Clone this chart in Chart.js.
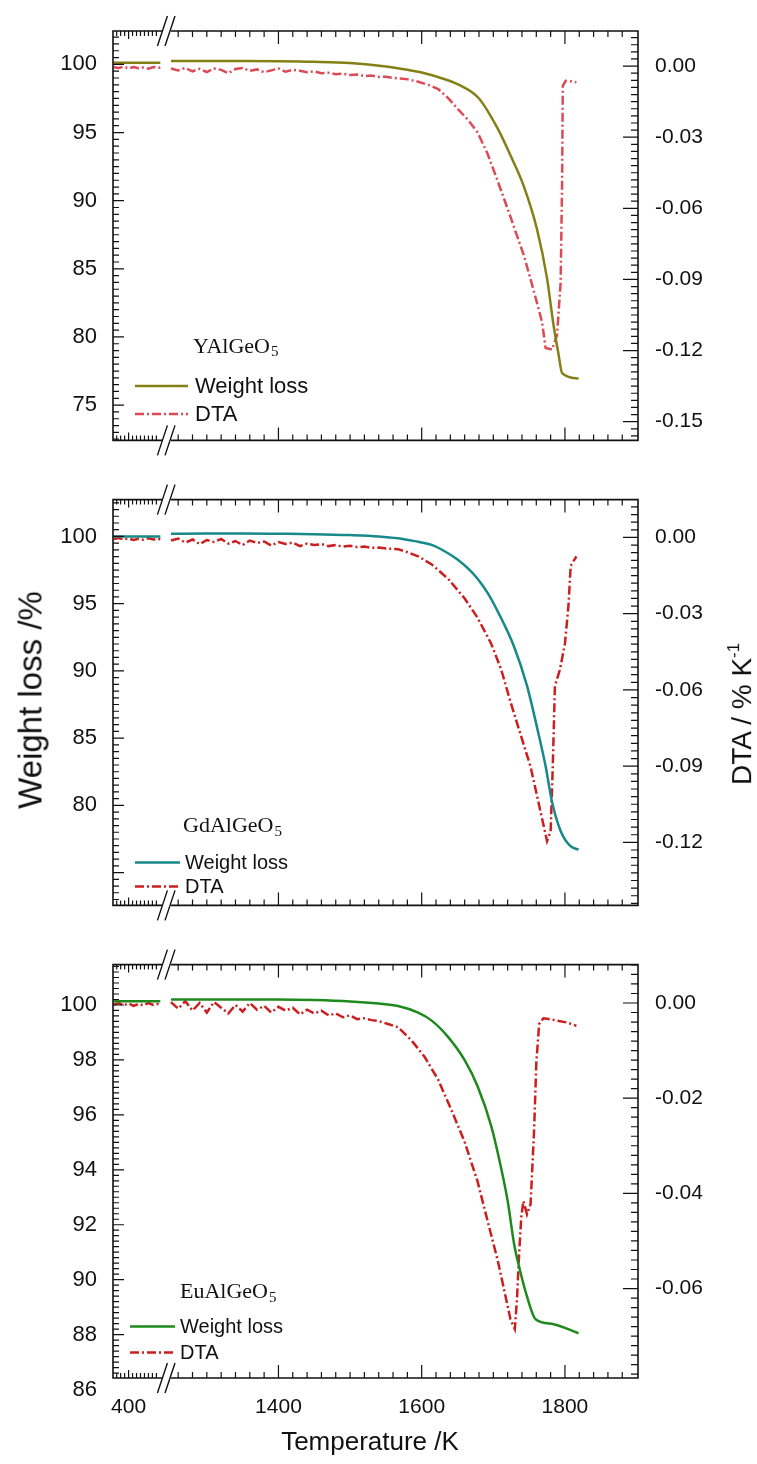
<!DOCTYPE html>
<html>
<head>
<meta charset="utf-8">
<script src="https://cdn.jsdelivr.net/npm/chart.js@4.4.1/dist/chart.umd.min.js"></script>
<style>
  body{margin:0;background:#fff;width:757px;height:1464px;position:relative;overflow:hidden;font-family:"Liberation Sans",Arial,sans-serif}
  canvas{position:absolute;left:0}
  .title{position:absolute;color:#111;white-space:nowrap;line-height:1}
  .title sup{font-size:0.6em;vertical-align:0.7em}
</style>
</head>
<body>
<canvas id="c1" style="top:0px" width="757" height="470"></canvas>
<canvas id="c2" style="top:470px" width="757" height="465"></canvas>
<canvas id="c3" style="top:935px" width="757" height="529"></canvas>
<div class="title" style="left:30px;top:700px;font-size:33px;transform:translate(-50%,-50%) rotate(-90deg)">Weight loss /%</div>
<div class="title" style="left:741px;top:714px;font-size:28px;transform:translate(-50%,-50%) rotate(-90deg)">DTA / % K<sup>-1</sup></div>
<div class="title" style="left:370px;top:1441px;font-size:26px;transform:translate(-50%,-50%)">Temperature /K</div>
<script>
// ---- data (temperature in K, weight in %, DTA in %/K) ----
// YAlGeO5
let wl1T = [325, 400, 480, 560, 1250, 1300, 1350, 1400, 1450, 1500, 1550, 1580, 1600, 1630, 1650, 1680, 1706, 1725, 1743, 1761, 1775, 1784, 1791, 1796, 1819]
let wl1 = [100.12, 100.12, 100.12, 100.12, 100.24, 100.24, 100.24, 100.23, 100.19, 100.1, 99.85, 99.6, 99.4, 98.95, 98.55, 97.5, 95.3, 93.2, 91.0, 87.9, 84.3, 80.9, 78.75, 77.35, 76.95]
let dta1T = [325, 350, 375, 400, 425, 450, 475, 500, 525, 550, 560,
  1250, 1260, 1270, 1280, 1290, 1300, 1310, 1320, 1330, 1340, 1350, 1360, 1370, 1380, 1390, 1400, 1410, 1420, 1430, 1440, 1450,
  1460, 1470, 1480, 1490, 1500, 1510, 1520, 1530, 1540, 1550, 1560, 1570, 1581, 1595, 1610, 1623, 1637, 1650, 1665, 1678, 1692,
  1706, 1724, 1743, 1757, 1768, 1773, 1782, 1789, 1794, 1796, 1797, 1801, 1816]
let dta1 = [-0.0005, -0.0008, -0.0003, -0.0010, -0.0004, -0.0009, -0.0006, -0.0011, -0.0004, -0.0008, -0.0006,
  -0.0010, -0.0018, -0.0008, -0.0022, -0.0012, -0.0025, -0.0010, -0.0016, -0.0030, -0.0012, -0.0008, -0.0020, -0.0014, -0.0026, -0.0018, -0.0010, -0.0024, -0.0016, -0.0020, -0.0026, -0.0022,
  -0.0030, -0.0028, -0.0034, -0.0032, -0.0038, -0.0036, -0.0042, -0.0040, -0.0046, -0.0045, -0.0050, -0.0052, -0.0056, -0.0066, -0.0080, -0.0097, -0.0135, -0.0180, -0.0228, -0.0280, -0.0370,
  -0.0484, -0.0636, -0.0802, -0.0954, -0.1079, -0.1189, -0.1196, -0.1134, -0.0913, -0.0498, -0.0083, -0.0062, -0.0068]

// GdAlGeO5
let wl2T = [325, 400, 480, 560, 1250, 1300, 1350, 1400, 1450, 1500, 1540, 1567, 1590, 1614, 1632, 1650, 1665, 1678, 1692, 1706, 1729, 1747, 1761, 1773, 1782, 1794, 1807, 1819]
let wl2 = [100.0, 100.0, 100.0, 100.0, 100.2, 100.22, 100.22, 100.2, 100.17, 100.1, 100.0, 99.86, 99.65, 99.37, 98.9, 98.29, 97.6, 96.85, 95.8, 94.44, 91.8, 88.9, 85.8, 82.9, 80.25, 78.1, 77.0, 76.7]
let dta2T = [325, 350, 375, 400, 425, 450, 475, 500, 525, 550, 560,
  1250, 1260, 1270, 1280, 1290, 1300, 1310, 1320, 1330, 1340, 1350, 1360, 1370, 1380, 1390, 1400, 1410, 1420, 1430, 1440, 1450,
  1460, 1470, 1480, 1490, 1500, 1510, 1520, 1530, 1540, 1553, 1567, 1580, 1595, 1614, 1637, 1660, 1678, 1697, 1711, 1724, 1738,
  1752, 1766, 1775, 1780, 1783, 1786, 1793, 1800, 1805, 1808, 1816]
let dta2 = [-0.0006, -0.0002, -0.0008, -0.0004, -0.0010, -0.0005, -0.0009, -0.0003, -0.0008, -0.0005, -0.0007,
  -0.0012, -0.0004, -0.0020, -0.0008, -0.0026, -0.0010, -0.0018, -0.0006, -0.0024, -0.0014, -0.0030, -0.0012, -0.0022, -0.0016, -0.0032, -0.0018, -0.0026, -0.0020, -0.0034, -0.0024, -0.0030,
  -0.0026, -0.0034, -0.0030, -0.0036, -0.0033, -0.0038, -0.0036, -0.0041, -0.0040, -0.0044, -0.0046, -0.0058, -0.0074, -0.0106, -0.0163, -0.0240, -0.0316, -0.0418, -0.0520, -0.0647, -0.0775,
  -0.0902, -0.1080, -0.1195, -0.1157, -0.0902, -0.0584, -0.0520, -0.0418, -0.0265, -0.0112, -0.0074]

// EuAlGeO5
let wl3T = [325, 400, 480, 560, 1250, 1300, 1350, 1400, 1450, 1500, 1540, 1567, 1595, 1614, 1637, 1660, 1678, 1697, 1711, 1720, 1729, 1736, 1747, 1759, 1784, 1819]
let wl3 = [100.14, 100.14, 100.14, 100.14, 100.2, 100.2, 100.2, 100.2, 100.18, 100.13, 100.05, 99.96, 99.72, 99.43, 98.83, 97.99, 97.04, 95.6, 94.05, 92.87, 91.3, 90.47, 89.39, 88.56, 88.38, 88.05]
let dta3T = [325, 350, 375, 400, 425, 450, 475, 500, 525, 550, 560,
  1250, 1260, 1270, 1280, 1290, 1300, 1310, 1320, 1330, 1340, 1350, 1360, 1370, 1380, 1390, 1400, 1410, 1420, 1430, 1440, 1450,
  1460, 1470, 1480, 1490, 1500, 1510, 1520, 1530, 1540, 1553, 1567, 1586, 1604, 1623, 1641, 1660, 1678, 1692, 1706, 1715, 1724,
  1730, 1733, 1736, 1739, 1742, 1747, 1752, 1757, 1760, 1764, 1770, 1775, 1789, 1803, 1816]
let dta3 = [-0.0003, 0.0000, -0.0005, -0.0001, -0.0006, -0.0002, -0.0005, 0.0000, -0.0004, -0.0002, -0.0004,
  0.0002, -0.0012, 0.0004, -0.0016, 0.0000, -0.0020, 0.0002, -0.0010, -0.0022, -0.0004, -0.0018, 0.0000, -0.0014, -0.0006, -0.0020, -0.0008, -0.0016, -0.0010, -0.0024, -0.0014, -0.0022,
  -0.0016, -0.0026, -0.0022, -0.0030, -0.0026, -0.0034, -0.0032, -0.0036, -0.0038, -0.0044, -0.0051, -0.0079, -0.0113, -0.0161, -0.0223, -0.0292, -0.0375, -0.0458, -0.0540, -0.0602, -0.0665,
  -0.0685, -0.0623, -0.0527, -0.0451, -0.0416, -0.0444, -0.0423, -0.0265, -0.0127, -0.0044, -0.0032, -0.0033, -0.0037, -0.0041, -0.0048]

let xLabels = [400, 1400, 1600, 1800]

// ---- broken x axis: the low temperatures are squeezed in front of the break ----
const U0 = 1170, LOW0 = 325, SQ = 0.277, BRK = 1242
function u(t){ return t < 1000 ? U0 + (t - LOW0) * SQ : t }
function realT(v){ return v < BRK ? Math.round((v - U0) / SQ + LOW0) : v }

function pts(ts, vs){
  let out = []
  for(let i=0;i<ts.length;i++){
    if(i > 0 && ts[i-1] < 1000 && ts[i] >= 1000) out.push({x: BRK, y: null})
    out.push({x: u(ts[i]), y: vs[i]})
  }
  return out
}

const FONT = '"Liberation Sans", Arial, sans-serif'

// frame, inward ticks and the // marks
const frame = {
  id: 'frame',
  afterDatasetsDraw(chart, args, o){
    const ctx = chart.ctx, a = chart.chartArea
    const x = chart.scales.x, yl = chart.scales.y, yr = chart.scales.y2
    const b1 = x.getPixelForValue(1238), b2 = x.getPixelForValue(1250)
    ctx.save()
    ctx.strokeStyle = '#111'
    ctx.lineWidth = 1.6
    ctx.beginPath()
    ctx.moveTo(b1, a.top); ctx.lineTo(a.left, a.top); ctx.lineTo(a.left, a.bottom); ctx.lineTo(b1, a.bottom)
    ctx.moveTo(b2, a.top); ctx.lineTo(a.right, a.top); ctx.lineTo(a.right, a.bottom); ctx.lineTo(b2, a.bottom)
    ctx.stroke()

    ctx.lineWidth = 1.2
    ctx.beginPath()
    function tk(px, py, dx, dy){ ctx.moveTo(px, py); ctx.lineTo(px + dx, py + dy) }
    // x ticks, bottom and top
    for(let t=340;t<=540;t+=20){
      let p = x.getPixelForValue(u(t)), L = t == 400 ? 8 : 5
      tk(p, a.bottom, 0, -L); tk(p, a.top, 0, L)
    }
    for(let t=1260;t<1900;t+=20){
      let p = x.getPixelForValue(t), L = t % 200 == 0 ? 13 : 6
      tk(p, a.bottom, 0, -L); tk(p, a.top, 0, L)
    }
    // y ticks, only inside the frame
    function yTicks(sc, major, minor, px, dir, Lmaj, Lmin){
      let k0 = Math.ceil(sc.min / minor - 1e-6), k1 = Math.floor(sc.max / minor + 1e-6)
      for(let k=k0;k<=k1;k++){
        let v = k * minor, r = v / major
        let isMaj = Math.abs(r - Math.round(r)) < 1e-6
        let p = sc.getPixelForValue(v)
        tk(px, p, dir * (isMaj ? Lmaj : Lmin), 0)
      }
    }
    yTicks(yl, o.leftMajor, o.leftMinor, a.left, 1, 11, 6)
    yTicks(yr, o.rightMajor, o.rightMinor, a.right, -1, 15, 7)
    ctx.stroke()

    // break marks
    ctx.lineWidth = 1.4
    ctx.beginPath()
    ;[a.top, a.bottom].forEach(yy => {
      ;[b1, b2 - 1].forEach(xx => { ctx.moveTo(xx - 5, yy + 15); ctx.lineTo(xx + 5, yy - 15) })
    })
    ctx.stroke()
    ctx.restore()
  }
}

// legend in the lower left corner, with the compound name above it
const legendBox = {
  id: 'legendBox',
  afterDatasetsDraw(chart, args, o){
    const ctx = chart.ctx, a = chart.chartArea
    ctx.save()
    ctx.fillStyle = '#111'
    ctx.textBaseline = 'middle'
    ctx.font = '22px "Liberation Serif", "Times New Roman", serif'
    ctx.fillText(o.name, o.nameX, a.top + o.nameY)
    let w = ctx.measureText(o.name).width
    ctx.font = '15px "Liberation Serif", "Times New Roman", serif'
    ctx.fillText('5', o.nameX + w + 1, a.top + o.nameY + 5)
    chart.data.datasets.forEach((ds, i) => {
      let y = a.top + o.rowY[i]
      ctx.strokeStyle = ds.borderColor
      ctx.lineWidth = ds.borderWidth
      ctx.setLineDash(ds.borderDash || [])
      ctx.beginPath(); ctx.moveTo(o.lineX[0], y); ctx.lineTo(o.lineX[1], y); ctx.stroke()
      ctx.setLineDash([])
      ctx.font = o.fontSize + 'px ' + FONT
      ctx.fillText(ds.label, o.textX, y + 1)
    })
    ctx.restore()
  }
}

function makePanel(id, p){
  let leftTicks = [], rightTicks = []
  for(let v=p.leftFirst; v<=p.leftLast + 1e-9; v+=p.leftMajor) leftTicks.push(v)
  for(let k=0; k<p.rightCount; k++) rightTicks.push(-k * p.rightMajor)
  new Chart(document.getElementById(id), {
    type: 'line',
    data: {
      datasets: [{
        label: 'Weight loss',
        data: pts(p.wlT, p.wl),
        yAxisID: 'y',
        borderColor: p.wlColor,
        borderWidth: 2.5,
        pointRadius: 0,
        cubicInterpolationMode: 'monotone',
        spanGaps: false
      }, {
        label: 'DTA',
        data: pts(p.dtaT, p.dta),
        yAxisID: 'y2',
        borderColor: p.dtaColor,
        borderWidth: 2.5,
        borderDash: [9, 3, 2, 3],
        pointRadius: 0,
        tension: 0,
        spanGaps: false
      }]
    },
    options: {
      responsive: false,
      animation: false,
      layout: {padding: {left: 0, right: 0, top: p.padTop, bottom: 0}},
      plugins: {
        legend: {display: false},
        tooltip: {enabled: false},
        frame: {leftMajor: p.leftMajor, leftMinor: p.leftMinor, rightMajor: p.rightMajor, rightMinor: p.rightMinor},
        legendBox: p.legend
      },
      scales: {
        x: {
          type: 'linear', min: 1169, max: 1902,
          grid: {display: false, drawTicks: false}, border: {display: false},
          afterBuildTicks: s => { s.ticks = xLabels.map(t => ({value: u(t)})) },
          afterFit: s => { s.height = p.xH },
          ticks: {display: p.showX, padding: 17, color: '#111', maxRotation: 0, autoSkip: false,
            font: {size: 21, family: FONT}, callback: v => realT(v)}
        },
        y: {
          position: 'left', min: p.leftMin, max: p.leftMax,
          grid: {display: false, drawTicks: false}, border: {display: false},
          afterBuildTicks: s => { s.ticks = leftTicks.map(v => ({value: v})) },
          afterFit: s => { s.width = 113 },
          ticks: {padding: 16, color: '#111', font: {size: 22, family: FONT}, callback: v => Math.round(v)}
        },
        y2: {
          position: 'right', min: p.rightMin, max: p.rightMax,
          grid: {display: false, drawTicks: false}, border: {display: false},
          afterBuildTicks: s => { s.ticks = rightTicks.map(v => ({value: v})) },
          afterFit: s => { s.width = 119 },
          ticks: {padding: 17, color: '#111', font: {size: 21, family: FONT}, callback: v => v.toFixed(2)}
        }
      }
    },
    plugins: [frame, legendBox]
  })
}

makePanel('c1', {
  wlT: wl1T, wl: wl1, dtaT: dta1T, dta: dta1,
  wlColor: '#848016', dtaColor: '#dc4a55',
  padTop: 31, xH: 22, showX: false,
  leftMin: 72.41, leftMax: 102.45, leftFirst: 75, leftLast: 100, leftMajor: 5, leftMinor: 0.5,
  rightMin: -0.1579, rightMax: 0.0148, rightMajor: 0.03, rightMinor: 0.003, rightCount: 6,
  legend: {name: 'YAlGeO', nameX: 193, nameY: 316, rowY: [355, 383], lineX: [135, 188], textX: 195, fontSize: 22}
})
makePanel('c2', {
  wlT: wl2T, wl: wl2, dtaT: dta2T, dta: dta2,
  wlColor: '#168a88', dtaColor: '#cc1e1e',
  padTop: 25, xH: 22, showX: false,
  leftMin: 72.56, leftMax: 102.74, leftFirst: 80, leftLast: 100, leftMajor: 5, leftMinor: 0.5,
  rightMin: -0.1448, rightMax: 0.0149, rightMajor: 0.03, rightMinor: 0.003, rightCount: 5,
  legend: {name: 'GdAlGeO', nameX: 183, nameY: 327, rowY: [363, 387], lineX: [135, 180], textX: 185, fontSize: 20}
})
// the 86 label of the last panel sits just under the frame, as in the original
makePanel('c3', {
  wlT: wl3T, wl: wl3, dtaT: dta3T, dta: dta3,
  wlColor: '#1e8a1e', dtaColor: '#cc1e1e',
  padTop: 23, xH: 86, showX: true,
  leftMin: 86.42, leftMax: 101.47, leftFirst: 86, leftLast: 100, leftMajor: 2, leftMinor: 0.2,
  rightMin: -0.0788, rightMax: 0.00807, rightMajor: 0.02, rightMinor: 0.002, rightCount: 4,
  legend: {name: 'EuAlGeO', nameX: 180, nameY: 328, rowY: [362, 388], lineX: [130, 175], textX: 180, fontSize: 20}
})
</script>
</body>
</html>
